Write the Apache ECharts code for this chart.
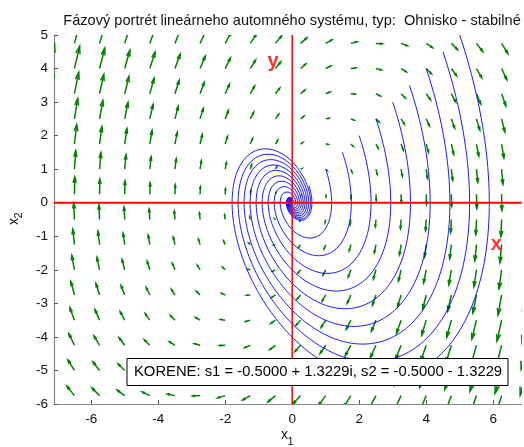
<!DOCTYPE html>
<html><head><meta charset="utf-8">
<script src="https://cdn.jsdelivr.net/npm/echarts@6/dist/echarts.min.js"></script>
<style>html,body{margin:0;padding:0;background:#fff}#c{width:524px;height:447px}</style>
</head><body><div id="c"></div>
<script>
// ---- data ----
const titleText = 'Fázový portrét lineárneho automného systému, typ:  Ohnisko - stabilné';
const rootsText = 'KORENE: s1 = -0.5000 + 1.3229i, s2 = -0.5000 - 1.3229';
const xTicks = [-6, -4, -2, 0, 2, 4, 6];
const yTicks = [-6, -5, -4, -3, -2, -1, 0, 1, 2, 3, 4, 5];
const xRange = [-7.11, 6.85];
const yRange = [-6, 5];
// grid of the green direction arrows
const arrowGridX = [-7.25, -6.5, -5.75, -5, -4.25, -3.5, -2.75, -2, -1.25, -0.5, 0.25, 1, 1.75, 2.5, 3.25, 4, 4.75, 5.5, 6.25, 7];
const arrowGridY = [-5.75, -5, -4.25, -3.5, -2.75, -2, -1.25, -0.5, 0.25, 1, 1.75, 2.5, 3.25, 4, 4.75];
// matrix of the drawn direction field (as read from arrow directions)
const fieldMatrix = [[0, 1], [-2, 1]];
// linear system of the trajectories: roots -0.5 ± 1.3229i
const systemMatrix = [[0, 1], [-2, -1]];
// starting points of the blue trajectories
const startX1 = [0.5, 1, 1.5, 2, 2.5, 3, 3.5, 4, 4.5, 5];
const startX2 = [0.5, 1, 1.5, 2, 2.5, 3, 3.5, 4, 4.5, 5];
// red axis lines and their labels
const redXLine = [[-7.11, 0], [6.85, 0]];
const redYLine = [[0, -6], [0, 5]];
const redLabels = [
  { name: 'x', value: [6.09, -1.24] },
  { name: 'y', value: [-0.57, 4.21] }
];

// ---- build series ----
const arrowData = [];
arrowGridX.forEach(x => arrowGridY.forEach(y => {
  const u = fieldMatrix[0][0] * x + fieldMatrix[0][1] * y;
  const v = fieldMatrix[1][0] * x + fieldMatrix[1][1] * y;
  arrowData.push([x, y, u, v]);
}));

function trajectory(A, x0, y0) {
  const f = (p) => [A[0][0] * p[0] + A[0][1] * p[1], A[1][0] * p[0] + A[1][1] * p[1]];
  const dt = 0.02, steps = 450;
  let p = [x0, y0];
  const out = [p.slice()];
  for (let i = 0; i < steps; i++) {
    const k1 = f(p);
    const k2 = f([p[0] + dt / 2 * k1[0], p[1] + dt / 2 * k1[1]]);
    const k3 = f([p[0] + dt / 2 * k2[0], p[1] + dt / 2 * k2[1]]);
    const k4 = f([p[0] + dt * k3[0], p[1] + dt * k3[1]]);
    p = [p[0] + dt / 6 * (k1[0] + 2 * k2[0] + 2 * k3[0] + k4[0]),
         p[1] + dt / 6 * (k1[1] + 2 * k2[1] + 2 * k3[1] + k4[1])];
    out.push(p.slice());
  }
  return out;
}

const ARROW_SCALE = 0.039;
const GREEN = '#008000';
const FONT = '"Liberation Sans", Arial, sans-serif';

const series = [];
series.push({
  type: 'custom',
  clip: true,
  silent: true,
  animation: false,
  data: arrowData,
  encode: { x: 0, y: 1 },
  renderItem: function (params, api) {
    const x = api.value(0), y = api.value(1);
    const u = api.value(2) * ARROW_SCALE, v = api.value(3) * ARROW_SCALE;
    const a = 0.33, b = 0.28;
    const p0 = api.coord([x, y]);
    const p1 = api.coord([x + u, y + v]);
    const h1 = api.coord([x + u - a * (u + b * v), y + v - a * (v - b * u)]);
    const h2 = api.coord([x + u - a * (u - b * v), y + v - a * (v + b * u)]);
    const st = { stroke: GREEN, lineWidth: 1.5, fill: null };
    return {
      type: 'group',
      children: [
        { type: 'polyline', shape: { points: [p0, p1] }, style: st },
        { type: 'polyline', shape: { points: [h1, p1, h2] }, style: st }
      ]
    };
  }
});

startX1.forEach((x0, i) => {
  series.push({
    type: 'line',
    data: trajectory(systemMatrix, x0, startX2[i]),
    showSymbol: false, symbol: 'none', clip: true, silent: true, animation: false,
    lineStyle: { color: '#0000ff', width: 0.9 }
  });
});

series.push({
  type: 'line', data: redXLine, showSymbol: false, symbol: 'none', clip: true, silent: true, animation: false,
  lineStyle: { color: '#ff0000', width: 2 }
});
series.push({
  type: 'line', data: redYLine, showSymbol: false, symbol: 'none', clip: true, silent: true, animation: false,
  lineStyle: { color: '#ff0000', width: 1.5 }
});
series.push({
  type: 'scatter', data: redLabels, symbolSize: 0, silent: true, animation: false,
  label: {
    show: true, position: 'inside', formatter: '{b}',
    color: '#ff0000', fontSize: 20, fontWeight: 'bold', fontFamily: FONT
  }
});

const chart = echarts.init(document.getElementById('c'), null, { renderer: 'canvas' });
chart.setOption({
  animation: false,
  backgroundColor: '#ffffff',
  grid: { left: 54, top: 35, right: 2.3, bottom: 43, containLabel: false },
  xAxis: {
    type: 'value', min: xRange[0], max: xRange[1],
    axisLine: { show: true, onZero: false, lineStyle: { color: '#888888', width: 1.2 } },
    axisTick: { show: true, inside: true, length: 4, customValues: xTicks, lineStyle: { color: '#555555' } },
    axisLabel: { customValues: xTicks, margin: 8, color: '#111111', fontSize: 13.5, fontFamily: FONT },
    splitLine: { show: false }
  },
  yAxis: {
    type: 'value', min: yRange[0], max: yRange[1], interval: 1,
    axisLine: { show: true, onZero: false, lineStyle: { color: '#888888', width: 1.2 } },
    axisTick: { show: true, inside: true, length: 4, customValues: yTicks, lineStyle: { color: '#555555' } },
    axisLabel: { customValues: yTicks, margin: 6, color: '#111111', fontSize: 13.5, fontFamily: FONT },
    splitLine: { show: false }
  },
  series: series,
  graphic: [
    { type: 'text', z: 100, x: 292, y: 20.5,
      style: { text: titleText, fill: '#111111', font: '14.6px ' + FONT, align: 'center', verticalAlign: 'middle' } },
    { type: 'rect', z: 100, shape: { x: 127, y: 358.5, width: 381, height: 27 },
      style: { fill: '#ffffff', stroke: '#000000', lineWidth: 1 } },
    { type: 'text', z: 101, x: 134, y: 371.5,
      style: { text: rootsText, fill: '#000000', font: '14.8px ' + FONT, align: 'left', verticalAlign: 'middle' } },
    { type: 'text', z: 100, x: 284.5, y: 435,
      style: { text: 'x', fill: '#111111', font: '14px ' + FONT, align: 'center', verticalAlign: 'middle' } },
    { type: 'text', z: 100, x: 290.5, y: 442,
      style: { text: '1', fill: '#111111', font: '11px ' + FONT, align: 'center', verticalAlign: 'middle' } },
    { type: 'group', z: 100, x: 14, y: 221.5, rotation: Math.PI / 2,
      children: [
        { type: 'text', x: 0, y: 0,
          style: { text: 'x', fill: '#111111', font: '14px ' + FONT, align: 'center', verticalAlign: 'middle' } },
        { type: 'text', x: 6, y: 5,
          style: { text: '2', fill: '#111111', font: '11px ' + FONT, align: 'center', verticalAlign: 'middle' } }
      ] }
  ]
});
</script>
</body></html>
